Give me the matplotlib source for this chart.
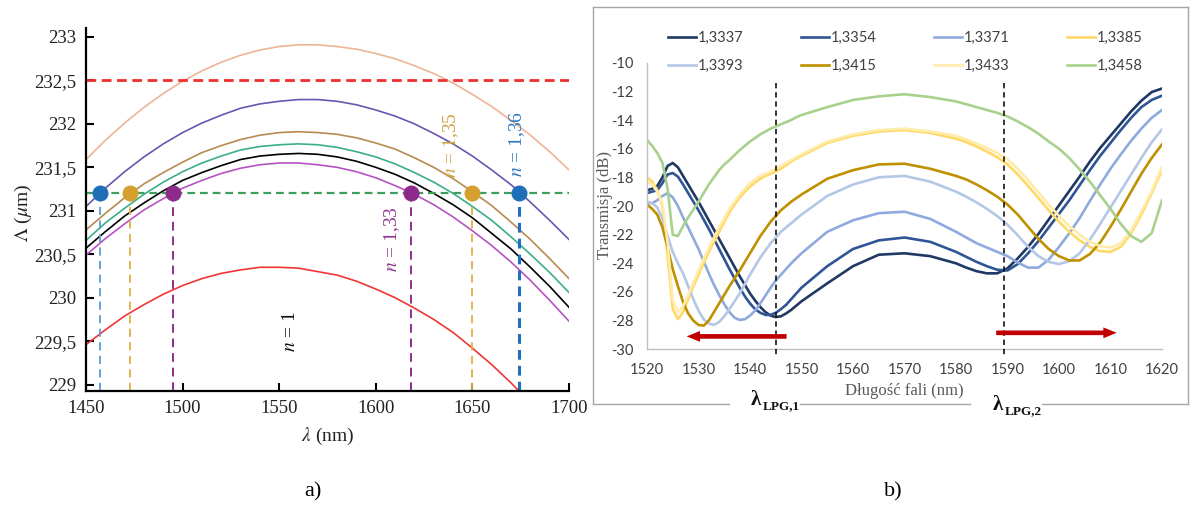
import matplotlib
matplotlib.use("Agg")
import matplotlib.pyplot as plt
from matplotlib.lines import Line2D

W, H = 1192, 509
plt.rcParams['mathtext.fontset'] = 'stix'
SERIF = 'Liberation Serif'

# ---------------- Panel a data ----------------
lam_a = [1450, 1460, 1470, 1480, 1490, 1500, 1510, 1520, 1530, 1540, 1550, 1560, 1570,
         1580, 1590, 1600, 1610, 1620, 1630, 1640, 1650, 1660, 1670, 1680, 1690, 1700]
peach = [231.59, 231.81, 232.01, 232.19, 232.35, 232.49, 232.61, 232.71, 232.79, 232.85, 232.89, 232.91, 232.91,
         232.89, 232.86, 232.81, 232.75, 232.67, 232.58, 232.47, 232.34, 232.20, 232.04, 231.87, 231.68, 231.47]
purple = [231.05, 231.26, 231.45, 231.62, 231.77, 231.90, 232.01, 232.10, 232.18, 232.23, 232.26, 232.28, 232.28,
          232.26, 232.22, 232.16, 232.09, 232.00, 231.89, 231.77, 231.63, 231.47, 231.30, 231.10, 230.89, 230.67]
brown = [230.78, 230.97, 231.15, 231.31, 231.44, 231.56, 231.67, 231.75, 231.82, 231.87, 231.90, 231.91, 231.90,
         231.88, 231.84, 231.78, 231.71, 231.61, 231.50, 231.37, 231.22, 231.06, 230.87, 230.67, 230.45, 230.22]
teal = [230.66, 230.86, 231.03, 231.19, 231.33, 231.45, 231.55, 231.63, 231.70, 231.74, 231.76, 231.77, 231.76,
        231.73, 231.68, 231.62, 231.54, 231.44, 231.33, 231.20, 231.05, 230.89, 230.70, 230.50, 230.29, 230.06]
black = [230.57, 230.76, 230.94, 231.09, 231.23, 231.35, 231.44, 231.52, 231.59, 231.63, 231.65, 231.66, 231.65,
         231.62, 231.57, 231.50, 231.42, 231.32, 231.20, 231.07, 230.92, 230.74, 230.56, 230.35, 230.13, 229.89]
magenta = [230.49, 230.68, 230.85, 231.01, 231.14, 231.26, 231.35, 231.43, 231.49, 231.53, 231.55, 231.55, 231.53,
           231.50, 231.45, 231.38, 231.29, 231.19, 231.07, 230.93, 230.77, 230.60, 230.41, 230.20, 229.97, 229.73]
red = [229.46, 229.63, 229.79, 229.92, 230.04, 230.14, 230.22, 230.28, 230.32, 230.35, 230.35, 230.34, 230.30,
       230.26, 230.19, 230.10, 230.00, 229.88, 229.75, 229.60, 229.42, 229.23, 229.02, 228.79, 228.55, 228.30]

level_red = 232.5
level_green = 231.2
cross_136 = [1457, 1674]
cross_135 = [1473, 1650]
cross_133 = [1495, 1618]

a_yticks = [229, 229.5, 230, 230.5, 231, 231.5, 232, 232.5, 233]
a_ylabels = ['229', '229,5', '230', '230,5', '231', '231,5', '232', '232,5', '233']
a_xticks = [1450, 1500, 1550, 1600, 1650, 1700]

# ---------------- Panel b data ----------------
lam_b = [1520, 1521, 1522, 1523, 1524, 1525, 1526, 1527, 1528, 1529,
         1530, 1531, 1532, 1533, 1534, 1535, 1536, 1537, 1538, 1539,
         1540, 1541, 1542, 1543, 1544, 1545, 1546, 1547, 1548, 1549, 1550,
         1555, 1560, 1565, 1570, 1575,
         1580, 1582, 1584, 1586, 1588, 1590, 1592, 1594, 1596, 1598,
         1600, 1602, 1604, 1606, 1608, 1610, 1612, 1614, 1616, 1618, 1620]
t3337 = [-18.9, -18.8, -18.6, -18.0, -17.2, -17.0, -17.3, -17.9, -18.5, -19.1,
         -19.7, -20.35, -21.0, -21.65, -22.3, -22.95, -23.6, -24.25, -24.9, -25.5,
         -26.1, -26.6, -27.05, -27.4, -27.65, -27.75, -27.7, -27.5, -27.25, -26.95, -26.65,
         -25.4, -24.2, -23.4, -23.3, -23.5,
         -24.0, -24.3, -24.55, -24.7, -24.7, -24.35, -23.65, -22.85, -21.95, -20.95,
         -19.95, -18.95, -17.95, -16.9, -15.95, -15.1, -14.25, -13.4, -12.65, -12.05, -11.8]
t3354 = [-19.1, -19.0, -18.9, -18.4, -17.8, -17.7, -17.95, -18.5, -19.1, -19.7,
         -20.3, -20.95, -21.6, -22.3, -23.0, -23.7, -24.4, -25.05, -25.7, -26.3,
         -26.8, -27.2, -27.45, -27.6, -27.6, -27.45, -27.2, -26.9, -26.5, -26.1, -25.7,
         -24.2, -23.0, -22.4, -22.2, -22.5,
         -23.2, -23.55, -23.9, -24.2, -24.45, -24.5, -24.05, -23.3, -22.45, -21.5,
         -20.55, -19.6, -18.55, -17.5, -16.5, -15.6, -14.7, -13.85, -13.1, -12.6, -12.3]
t3371 = [-19.8, -19.8, -19.6, -19.3, -19.1, -19.4, -20.0, -20.8, -21.5, -22.25,
         -23.0, -23.85, -24.7, -25.5, -26.2, -26.85, -27.4, -27.8, -27.95, -27.9,
         -27.65, -27.3, -26.8, -26.25, -25.7, -25.2, -24.8, -24.4, -24.0, -23.65, -23.3,
         -21.8, -21.0, -20.5, -20.4, -20.9,
         -21.8, -22.2, -22.6, -22.9, -23.2, -23.5, -23.95, -24.3, -24.3, -23.75,
         -22.85, -21.9, -20.85, -19.65, -18.5, -17.4, -16.4, -15.45, -14.6, -13.85, -13.3]
t3385 = [-18.0, -18.3, -18.9, -20.0, -23.5, -27.2, -27.9, -27.4, -26.5, -25.6,
         -24.8, -24.0, -23.2, -22.5, -21.8, -21.1, -20.45, -19.9, -19.4, -19.0,
         -18.65, -18.35, -18.1, -17.9, -17.75, -17.6, -17.4, -17.15, -16.9, -16.7, -16.5,
         -15.6, -15.1, -14.8, -14.7, -14.9,
         -15.3, -15.55, -15.85, -16.2, -16.6, -17.1, -17.8, -18.6, -19.45, -20.3,
         -21.1, -21.8, -22.4, -22.85, -23.15, -23.2, -22.85, -21.9, -20.6, -19.1, -17.5]
t3393 = [-19.7, -19.8, -20.1, -20.9, -22.1, -23.2, -24.0, -24.7, -25.6, -26.5,
         -27.3, -27.9, -28.2, -28.3, -28.1, -27.7, -27.2, -26.65, -26.1, -25.45,
         -24.8, -24.2, -23.6, -23.1, -22.6, -22.2, -21.8, -21.5, -21.2, -20.9, -20.6,
         -19.3, -18.5, -18.0, -17.9, -18.3,
         -19.0, -19.35, -19.75, -20.2, -20.7, -21.3, -22.05, -22.85, -23.5, -23.9,
         -24.05, -23.85, -23.3, -22.35, -21.25, -20.1, -18.95, -17.8, -16.65, -15.55, -14.65]
t3415 = [-19.9, -20.2, -20.6, -21.5, -22.9, -24.4, -25.6, -26.7, -27.5, -28.0,
         -28.3, -28.35, -28.0, -27.4, -26.8, -26.2, -25.6, -25.05, -24.5, -23.9,
         -23.3, -22.7, -22.1, -21.6, -21.1, -20.7, -20.3, -20.0, -19.7, -19.45, -19.2,
         -18.1, -17.5, -17.1, -17.05, -17.4,
         -17.9, -18.15, -18.5, -18.9, -19.35, -19.9, -20.6, -21.45, -22.3, -23.0,
         -23.5, -23.8, -23.8, -23.35, -22.55, -21.45, -20.25, -19.0, -17.75, -16.65, -15.7]
t3433 = [-18.3, -18.5, -19.0, -19.8, -22.6, -26.6, -27.4, -27.0, -26.2, -25.35,
         -24.5, -23.7, -22.9, -22.2, -21.5, -20.85, -20.2, -19.7, -19.2, -18.8,
         -18.4, -18.15, -17.9, -17.75, -17.6, -17.4, -17.2, -17.0, -16.8, -16.6, -16.4,
         -15.5, -15.0, -14.7, -14.6, -14.8,
         -15.1, -15.35, -15.65, -15.95, -16.3, -16.75, -17.4, -18.2, -19.05, -19.9,
         -20.7, -21.4, -22.0, -22.5, -22.8, -22.9, -22.6, -21.7, -20.4, -18.95, -17.3]
t3458 = [-15.4, -15.8, -16.3, -17.0, -18.8, -22.0, -22.1, -21.4, -20.8, -20.25,
         -19.7, -19.1, -18.5, -18.0, -17.5, -17.1, -16.8, -16.45, -16.1, -15.8,
         -15.5, -15.25, -15.0, -14.8, -14.6, -14.45, -14.3, -14.15, -14.0, -13.8, -13.65,
         -13.1, -12.6, -12.35, -12.2, -12.4,
         -12.7, -12.9, -13.1, -13.3, -13.5, -13.75, -14.1, -14.5, -14.95, -15.5,
         -16.0, -16.65, -17.45, -18.3, -19.25, -20.2, -21.25, -22.1, -22.5, -21.9, -19.6]

series_b = [('1,3337', t3337, '#1F3864'), ('1,3354', t3354, '#2F5597'),
            ('1,3371', t3371, '#8FAADC'), ('1,3385', t3385, '#FFD966'),
            ('1,3393', t3393, '#B4C7E7'), ('1,3415', t3415, '#BF9000'),
            ('1,3433', t3433, '#FFEBAA'), ('1,3458', t3458, '#A9D18E')]
lpg = [1545, 1589.4]
arrow_left = (1547.1, 1527.7, -29.1)
arrow_right = (1587.8, 1611.2, -28.85)
b_yticks = [-30, -28, -26, -24, -22, -20, -18, -16, -14, -12, -10]
b_xticks = [1520, 1530, 1540, 1550, 1560, 1570, 1580, 1590, 1600, 1610, 1620]

fig = plt.figure(figsize=(W / 100, H / 100), dpi=100)

def fx(px):
    return px / W

def fy(py):
    return 1 - py / H

# ================= Panel a =================
ax1 = fig.add_axes([fx(86), fy(390.7), fx(569) - fx(86), fy(28.3) - fy(390.7)])
ax1.set_xlim(1450, 1700)
ax1.set_ylim(228.93, 233.1)
for s in ['top', 'right']:
    ax1.spines[s].set_visible(False)
for s in ['left', 'bottom']:
    ax1.spines[s].set_linewidth(1.6)
    ax1.spines[s].set_color('black')

curve_lw = 1.2
ax1.plot(lam_a, peach, color='#EDB595', lw=curve_lw)
ax1.plot(lam_a, purple, color='#6A55B0', lw=curve_lw)
ax1.plot(lam_a, brown, color='#B88A50', lw=curve_lw)
ax1.plot(lam_a, teal, color='#3AAE8C', lw=curve_lw)
ax1.plot(lam_a, black, color='black', lw=curve_lw)
ax1.plot(lam_a, magenta, color='#B553C2', lw=curve_lw)
ax1.plot(lam_a, red, color='#F03535', lw=curve_lw)

ax1.axhline(level_red, color='#F02E2E', lw=2.0, dashes=(3.5, 2.0))
ax1.axhline(level_green, color='#3E9E5E', lw=1.6, dashes=(3.5, 2.2))

ybot = 228.93
vspec = [(cross_136[0], '#5B9BD5', 1.3), (cross_136[1], '#1F6EC0', 2.2),
         (cross_135[0], '#DDB040', 1.3), (cross_135[1], '#DDB040', 1.3),
         (cross_133[0], '#8E2E8E', 1.4), (cross_133[1], '#8E2E8E', 1.4)]
for xv, col, lw in vspec:
    ax1.plot([xv, xv], [ybot, level_green], color=col, lw=lw, dashes=(4.5, 3.0) if lw < 2 else (3.2, 2.0))

ax1.plot(cross_136, [level_green] * 2, 'o', color='#1F6EB8', ms=10.5, zorder=5)
ax1.plot(cross_135, [level_green] * 2, 'o', color='#D4A030', ms=10.5, zorder=5)
ax1.plot(cross_133, [level_green] * 2, 'o', color='#8E2A8C', ms=10.5, zorder=5)

ax1.set_yticks(a_yticks)
ax1.set_yticklabels(a_ylabels)
ax1.set_xticks(a_xticks)
ax1.set_xticklabels([str(v) for v in a_xticks])
ax1.tick_params(direction='in', length=6, width=1.5, colors='black', pad=7)
for lab in ax1.get_xticklabels() + ax1.get_yticklabels():
    lab.set_fontfamily(SERIF)
    lab.set_fontsize(13.5)
    lab.set_color('#222222')
ax1.set_xlabel(r'$\lambda$ (nm)', fontfamily=SERIF, fontsize=14, labelpad=6, color='#222222')
ax1.set_ylabel(r'$\Lambda$ ($\mu$m)', fontfamily=SERIF, fontsize=14, color='#222222')
ax1.yaxis.set_label_coords(-0.107, 0.49)

lab_kw = dict(rotation=90, ha='center', va='center', fontfamily=SERIF, fontsize=14)
ax1.text(1556, 229.61, r'$n$ = 1', color='#111111', **lab_kw)
ax1.text(1608.4, 230.68, r'$n$ = 1,33', color='#8E3A8E', **lab_kw)
ax1.text(1639, 231.76, r'$n$ = 1,35', color='#CFA445', **lab_kw)
ax1.text(1673, 231.77, r'$n$ = 1,36', color='#2E78C0', **lab_kw)

# ================= Panel b =================
ax2 = fig.add_axes([fx(647), fy(349.3), fx(1162) - fx(647), fy(62.7) - fy(349.3)])
ax2.set_xlim(1520, 1620)
ax2.set_ylim(-30, -10)
for s in ['top', 'right']:
    ax2.spines[s].set_visible(False)
for s in ['left', 'bottom']:
    ax2.spines[s].set_color('#BFBFBF')
    ax2.spines[s].set_linewidth(1.0)

handles = {}
for name, vals, col in series_b:
    ln, = ax2.plot(lam_b, vals, color=col, lw=1.9, label=name, solid_joinstyle='round')
    handles[name] = ln

for xv in lpg:
    ax2.plot([xv, xv], [-11.4, -30.6], color='black', lw=1.1, dashes=(3.5, 2.5), clip_on=False, zorder=6)

for x0, x1, yv in [arrow_left, arrow_right]:
    ax2.annotate('', xy=(x1, yv), xytext=(x0, yv),
                 arrowprops=dict(arrowstyle='simple,head_length=0.8,head_width=0.65,tail_width=0.28',
                                 color='#C00000', lw=0, shrinkA=0, shrinkB=0, mutation_scale=12), zorder=7)

ax2.set_yticks(b_yticks)
ax2.set_yticklabels([str(v) for v in b_yticks])
ax2.set_xticks(b_xticks)
ax2.set_xticklabels([str(v) for v in b_xticks])
ax2.tick_params(length=0, colors='#595959', pad=10)
for lab in ax2.get_xticklabels() + ax2.get_yticklabels():
    lab.set_fontfamily('Lato')
    lab.set_fontsize(10.5)
    lab.set_color('#404040')
ax2.set_xlabel('Długość fali (nm)', fontfamily=SERIF, fontsize=12, color='#595959', labelpad=4)
ax2.set_ylabel('Transmisja (dB)', fontfamily=SERIF, fontsize=12, color='#595959')
ax2.yaxis.set_label_coords(-0.066, 0.503)

order = ['1,3337', '1,3393', '1,3354', '1,3415', '1,3371', '1,3433', '1,3385', '1,3458']
leg = fig.legend([handles[k] for k in order], order, loc='upper left', ncol=4,
                 bbox_to_anchor=(fx(668), fy(31)), bbox_transform=fig.transFigure,
                 frameon=False, borderpad=0, borderaxespad=0, handlelength=1.92,
                 handletextpad=0.15, columnspacing=3.9, labelspacing=0.95,
                 prop={'family': 'Lato', 'size': 10.5})
for t in leg.get_texts():
    t.set_color('#404040')

# border box of panel b
bc = '#A6A6A6'
segs = [((593, 7), (1188, 7)), ((593, 7), (593, 404)), ((1188, 7), (1188, 404)),
        ((593, 404), (729, 404)), ((800, 404), (970, 404)), ((1042, 404), (1188, 404))]
for (xa, ya), (xb, yb) in segs:
    fig.add_artist(Line2D([fx(xa), fx(xb)], [fy(ya), fy(yb)], color=bc, lw=1.0, transform=fig.transFigure))

lk = dict(fontfamily=SERIF, fontweight='bold', color='#111111')
fig.text(fx(756), fy(400), 'λ', ha='center', va='center', fontsize=15, **lk)
fig.text(fx(763), fy(406), 'LPG,1', ha='left', va='center', fontsize=9.5, **lk)
fig.text(fx(998), fy(405), 'λ', ha='center', va='center', fontsize=15, **lk)
fig.text(fx(1005), fy(411), 'LPG,2', ha='left', va='center', fontsize=9.5, **lk)

fig.text(fx(313), fy(492), 'a)', ha='center', va='center', fontfamily=SERIF, fontsize=16)
fig.text(fx(893), fy(492), 'b)', ha='center', va='center', fontfamily=SERIF, fontsize=16)

fig.savefig('out.png', dpi=100)
